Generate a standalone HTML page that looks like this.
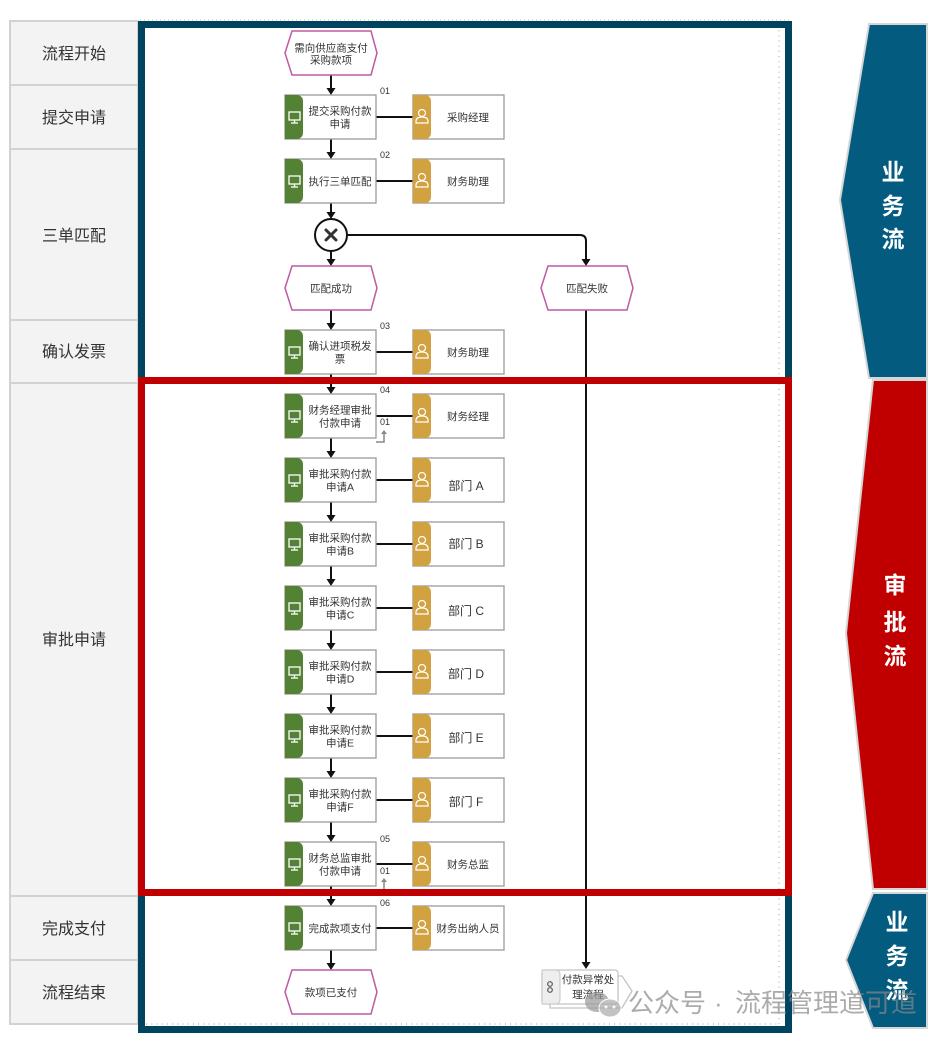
<!DOCTYPE html>
<html><head><meta charset="utf-8"><style>
html,body{margin:0;padding:0;background:#fff;}
svg{display:block;}
text{font-family:"Liberation Sans","Noto Sans CJK SC",sans-serif;}
</style></head><body>
<svg width="952" height="1042" viewBox="0 0 952 1042" xmlns="http://www.w3.org/2000/svg">
<!-- lane labels -->
<g stroke="#d2d2d2" stroke-width="2" fill="#f3f3f3">
<rect x="10" y="21" width="128" height="64"/>
<rect x="10" y="85" width="128" height="64"/>
<rect x="10" y="149" width="128" height="171"/>
<rect x="10" y="320" width="128" height="63"/>
<rect x="10" y="383" width="128" height="513"/>
<rect x="10" y="896" width="128" height="64"/>
<rect x="10" y="960" width="128" height="64"/>
</g>
<g font-size="16" fill="#333" text-anchor="middle">
<text x="74" y="59">流程开始</text>
<text x="74" y="123">提交申请</text>
<text x="74" y="241">三单匹配</text>
<text x="74" y="357">确认发票</text>
<text x="74" y="645">审批申请</text>
<text x="74" y="934">完成支付</text>
<text x="74" y="998">流程结束</text>
</g>
<!-- dotted guide lines -->
<line x1="140" y1="20" x2="792" y2="20" stroke="#bbb" stroke-width="1" stroke-dasharray="1,3"/>
<line x1="779" y1="30" x2="779" y2="1024" stroke="#bbb" stroke-width="1.2" stroke-dasharray="1.2,4"/>
<line x1="146" y1="1024" x2="779" y2="1024" stroke="#bbb" stroke-width="1.2" stroke-dasharray="1.2,4"/>

<!-- connectors -->
<g stroke="#111" stroke-width="2" fill="none">
<line x1="331" y1="75" x2="331" y2="89"/>
<line x1="331" y1="139" x2="331" y2="153"/>
<line x1="331" y1="203" x2="331" y2="213"/>
<line x1="331" y1="251" x2="331" y2="260"/>
<line x1="331" y1="310" x2="331" y2="324"/>
<line x1="331" y1="374" x2="331" y2="388"/>
<line x1="331" y1="438" x2="331" y2="452"/>
<line x1="331" y1="502" x2="331" y2="516"/>
<line x1="331" y1="566" x2="331" y2="580"/>
<line x1="331" y1="630" x2="331" y2="644"/>
<line x1="331" y1="694" x2="331" y2="708"/>
<line x1="331" y1="758" x2="331" y2="772"/>
<line x1="331" y1="822" x2="331" y2="836"/>
<line x1="331" y1="886" x2="331" y2="900"/>
<line x1="331" y1="950" x2="331" y2="964"/>
<path d="M347 235 H580 Q586 235 586 241 V260"/>
<line x1="586" y1="310" x2="586" y2="963"/>
<!-- role links -->
<line x1="376" y1="117" x2="413" y2="117"/>
<line x1="376" y1="181" x2="413" y2="181"/>
<line x1="376" y1="352" x2="413" y2="352"/>
<line x1="376" y1="416" x2="413" y2="416"/>
<line x1="376" y1="480" x2="413" y2="480"/>
<line x1="376" y1="544" x2="413" y2="544"/>
<line x1="376" y1="608" x2="413" y2="608"/>
<line x1="376" y1="672" x2="413" y2="672"/>
<line x1="376" y1="736" x2="413" y2="736"/>
<line x1="376" y1="800" x2="413" y2="800"/>
<line x1="376" y1="864" x2="413" y2="864"/>
<line x1="376" y1="928" x2="413" y2="928"/>
</g>
<g fill="#111">
<polygon points="331,95 326.5,88 335.5,88"/>
<polygon points="331,159 326.5,152 335.5,152"/>
<polygon points="331,219 326.5,212 335.5,212"/>
<polygon points="331,266 326.5,259 335.5,259"/>
<polygon points="586,266 581.5,259 590.5,259"/>
<polygon points="331,330 326.5,323 335.5,323"/>
<polygon points="331,394 326.5,387 335.5,387"/>
<polygon points="331,458 326.5,451 335.5,451"/>
<polygon points="331,522 326.5,515 335.5,515"/>
<polygon points="331,586 326.5,579 335.5,579"/>
<polygon points="331,650 326.5,643 335.5,643"/>
<polygon points="331,714 326.5,707 335.5,707"/>
<polygon points="331,778 326.5,771 335.5,771"/>
<polygon points="331,842 326.5,835 335.5,835"/>
<polygon points="331,906 326.5,899 335.5,899"/>
<polygon points="331,970 326.5,963 335.5,963"/>
<polygon points="586,969 581.5,962 590.5,962"/>
</g>

<!-- events -->
<g fill="#fff" stroke="#bf5aa0" stroke-width="1.5">
<polygon points="285,53 292,31 371,31 377,53 371,75 292,75"/>
<polygon points="285,288 292,266 371,266 377,288 371,310 292,310"/>
<polygon points="541,288 548,266 627,266 633,288 627,310 548,310"/>
<polygon points="285,992 292,970 371,970 377,992 371,1014 292,1014"/>
</g>
<g font-size="10.5" fill="#333" text-anchor="middle">
<text x="331" y="51.5">需向供应商支付</text>
<text x="331" y="63.5">采购款项</text>
<text x="331" y="292">匹配成功</text>
<text x="587" y="292">匹配失败</text>
<text x="331" y="996">款项已支付</text>
</g>

<!-- gateway -->
<circle cx="331" cy="235" r="16" fill="#fff" stroke="#111" stroke-width="2"/>
<g stroke="#333" stroke-width="3" stroke-linecap="round">
<line x1="326" y1="230" x2="336" y2="240"/><line x1="336" y1="230" x2="326" y2="240"/>
</g>

<!-- function boxes -->
<defs>
<g id="fn">
<rect x="285" y="0" width="91" height="44" fill="#fff" stroke="#9a9a9a" stroke-width="1.3"/>
<path d="M285 0 h12 a6 6 0 0 1 6 6 v32 a6 6 0 0 1 -6 6 h-12 z" fill="#548235"/>
<rect x="289" y="17" width="11" height="8" fill="none" stroke="#fff" stroke-width="1.3"/>
<line x1="294.5" y1="25" x2="294.5" y2="27.5" stroke="#fff" stroke-width="1.3"/>
<line x1="291" y1="28" x2="298" y2="28" stroke="#fff" stroke-width="1.3"/>
</g>
<g id="rl">
<rect x="413" y="0" width="91" height="44" fill="#fff" stroke="#9a9a9a" stroke-width="1.3"/>
<path d="M413 0 h12 a6 6 0 0 1 6 6 v32 a6 6 0 0 1 -6 6 h-12 z" fill="#d2a140"/>
<circle cx="422" cy="18" r="3.5" fill="none" stroke="#fff" stroke-width="1.2"/>
<path d="M416 28 v-1.5 q0-4.5 6-4.5 q6 0 6 4.5 v1.5 z" fill="none" stroke="#fff" stroke-width="1.2"/>
</g>
</defs>
<use href="#fn" y="95"/><use href="#rl" y="95"/>
<use href="#fn" y="159"/><use href="#rl" y="159"/>
<use href="#fn" y="330"/><use href="#rl" y="330"/>
<use href="#fn" y="394"/><use href="#rl" y="394"/>
<use href="#fn" y="458"/><use href="#rl" y="458"/>
<use href="#fn" y="522"/><use href="#rl" y="522"/>
<use href="#fn" y="586"/><use href="#rl" y="586"/>
<use href="#fn" y="650"/><use href="#rl" y="650"/>
<use href="#fn" y="714"/><use href="#rl" y="714"/>
<use href="#fn" y="778"/><use href="#rl" y="778"/>
<use href="#fn" y="842"/><use href="#rl" y="842"/>
<use href="#fn" y="906"/><use href="#rl" y="906"/>

<g font-size="10.5" fill="#333" text-anchor="middle">
<text x="340" y="114.5">提交采购付款</text><text x="340" y="127.5">申请</text>
<text x="340" y="185">执行三单匹配</text>
<text x="340" y="349.5">确认进项税发</text><text x="340" y="362.5">票</text>
<text x="340" y="413.5">财务经理审批</text><text x="340" y="426.5">付款申请</text>
<text x="340" y="477.5">审批采购付款</text><text x="340" y="490.5">申请A</text>
<text x="340" y="541.5">审批采购付款</text><text x="340" y="554.5">申请B</text>
<text x="340" y="605.5">审批采购付款</text><text x="340" y="618.5">申请C</text>
<text x="340" y="669.5">审批采购付款</text><text x="340" y="682.5">申请D</text>
<text x="340" y="733.5">审批采购付款</text><text x="340" y="746.5">申请E</text>
<text x="340" y="797.5">审批采购付款</text><text x="340" y="810.5">申请F</text>
<text x="340" y="861.5">财务总监审批</text><text x="340" y="874.5">付款申请</text>
<text x="340" y="932">完成款项支付</text>
<text x="468" y="121">采购经理</text>
<text x="468" y="185">财务助理</text>
<text x="468" y="356">财务助理</text>
<text x="468" y="420">财务经理</text>
<text x="468" y="868">财务总监</text>
<text x="468" y="932">财务出纳人员</text>
</g>
<g font-size="12" fill="#333" text-anchor="middle">
<text x="466" y="490">部门 A</text>
<text x="466" y="548">部门 B</text>
<text x="466" y="615">部门 C</text>
<text x="466" y="678">部门 D</text>
<text x="466" y="742">部门 E</text>
<text x="466" y="806">部门 F</text>
</g>
<g font-size="9" fill="#333">
<text x="380" y="94">01</text>
<text x="380" y="158">02</text>
<text x="380" y="329">03</text>
<text x="380" y="393">04</text>
<text x="380" y="425">01</text>
<text x="380" y="842">05</text>
<text x="380" y="874">01</text>
<text x="380" y="906">06</text>
</g>
<g stroke="#888" stroke-width="1.5" fill="none">
<path d="M376 442 H384 V433"/>
<path d="M384 890 V881"/>
</g>
<g fill="#888">
<polygon points="384,430 381,434 387,434"/>
<polygon points="384,878 381,882 387,882"/>
</g>

<!-- process interface -->
<polygon points="550,976 622,976 632,991 622,1008 550,1008" fill="#fff" stroke="#c4c4c4" stroke-width="1.3"/>
<rect x="542" y="970" width="76" height="34" rx="3" fill="#fff" stroke="#c4c4c4" stroke-width="1.3"/>
<path d="M542 970 h14 a4 4 0 0 1 4 4 v26 a4 4 0 0 1 -4 4 h-14 z" fill="#eeeeee" stroke="#c4c4c4" stroke-width="1"/>
<circle cx="550" cy="984" r="2.3" fill="none" stroke="#555" stroke-width="1.2"/>
<circle cx="550" cy="990" r="2.3" fill="none" stroke="#555" stroke-width="1.2"/>
<g font-size="10.5" fill="#333" text-anchor="middle">
<text x="588" y="983">付款异常处</text>
<text x="588" y="998">理流程</text>
</g>

<!-- frames -->
<rect x="141.5" y="24.5" width="647" height="1005" fill="none" stroke="#00445f" stroke-width="7"/>
<rect x="141.5" y="380.5" width="647" height="512" fill="none" stroke="#c00000" stroke-width="7"/>

<!-- banners -->
<polygon points="869,24 927,24 927,378 869,378 840,200" fill="#035c80" stroke="#d6d6d6" stroke-width="2"/>
<polygon points="873,380 927,380 927,889 873,889 846,633" fill="#c00000" stroke="#d6d6d6" stroke-width="2"/>
<polygon points="873,893 927,893 927,1028 873,1028 846,960" fill="#035c80" stroke="#d6d6d6" stroke-width="2"/>
<g font-size="23" font-weight="bold" fill="#fff" text-anchor="middle">
<text x="893" y="180">业</text>
<text x="893" y="214">务</text>
<text x="893" y="247">流</text>
<text x="895" y="593">审</text>
<text x="895" y="630">批</text>
<text x="895" y="664">流</text>
<text x="897" y="930">业</text>
<text x="897" y="964">务</text>
<text x="897" y="998">流</text>
</g>

<!-- watermark -->
<g opacity="0.7">
<ellipse cx="597" cy="1002" rx="12" ry="10" fill="#999"/>
<ellipse cx="610" cy="1008" rx="11" ry="9" fill="#aaa" stroke="#fff" stroke-width="1"/>
<circle cx="606" cy="1007" r="1.5" fill="#fff"/><circle cx="614" cy="1007" r="1.5" fill="#fff"/>
<g font-size="26" fill="#888">
<text x="628" y="1012">公众号</text>
<text x="714" y="1012">·</text>
<text x="735" y="1012">流程管理道可道</text>
</g>
</g>
</svg>
</body></html>
